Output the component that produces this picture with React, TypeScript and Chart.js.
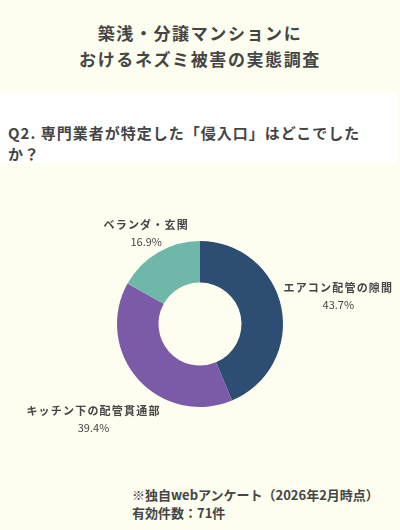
import { useEffect, useRef } from 'react'
import { Chart, registerables } from 'chart.js'

Chart.register(...registerables)

const categories = ['エアコン配管の隙間', 'キッチン下の配管貫通部', 'ベランダ・玄関']
const shares = [43.7, 39.4, 16.9]
const colors = ['#2d4e72', '#7b5ba8', '#6fb8a9']
// how far from the centre each label sits, as a multiple of the outer radius
const labelDistance = [1.7, 1.72, 1.28]

const FONT = '"Noto Sans CJK JP", "Noto Sans", sans-serif'
const TEXT = '#454545'

const labelPlugin = {
  id: 'sliceLabels',
  afterDatasetsDraw(chart: any) {
    const { ctx } = chart
    const meta = chart.getDatasetMeta(0)
    ctx.save()
    ctx.textAlign = 'center'
    ctx.textBaseline = 'middle'
    meta.data.forEach((arc: any, i: number) => {
      const { x, y, startAngle, endAngle, outerRadius } = arc.getProps(
        ['x', 'y', 'startAngle', 'endAngle', 'outerRadius'], true)
      const mid = (startAngle + endAngle) / 2
      const d = outerRadius * labelDistance[i]
      const lx = x + Math.cos(mid) * d
      const ly = y + Math.sin(mid) * d
      ctx.fillStyle = TEXT
      ctx.font = `bold 11px ${FONT}`
      ;(ctx as any).letterSpacing = '1.2px'
      ctx.fillText(categories[i], lx, ly - 8)
      ctx.font = `11px ${FONT}`
      ;(ctx as any).letterSpacing = '0px'
      ctx.fillText(shares[i].toFixed(1) + '%', lx, ly + 9)
    })
    ctx.restore()
  }
}

function Donut() {
  const ref = useRef<HTMLCanvasElement>(null)

  useEffect(() => {
    if (!ref.current) return
    const chart = new Chart(ref.current, {
      type: 'doughnut',
      data: {
        labels: categories,
        datasets: [{
          data: shares,
          backgroundColor: colors,
          borderWidth: 0
        }]
      },
      options: {
        responsive: false,
        animation: false,
        cutout: '50%',
        layout: { padding: { top: 51, bottom: 52 } },
        plugins: {
          legend: { display: false },
          tooltip: { enabled: false }
        }
      },
      plugins: [labelPlugin]
    })
    return () => chart.destroy()
  }, [])

  return <canvas ref={ref} width={400} height={269} style={{ position: 'absolute', left: 0, top: 190 }} />
}

export default function App() {
  return (
    <div style={{
      position: 'fixed', left: 0, top: 0, width: 400, height: 530,
      background: '#fdfdf0', fontFamily: FONT, color: TEXT, overflow: 'hidden'
    }}>
      <div style={{
        position: 'absolute', top: 20, left: 0, width: 400, textAlign: 'center',
        fontSize: 17, fontWeight: 700, lineHeight: '26px', letterSpacing: 1.6
      }}>
        築浅・分譲マンションに<br />おけるネズミ被害の実態調査
      </div>
      <div style={{
        position: 'absolute', top: 93, left: 0, width: 397, height: 70, background: '#ffffff'
      }}>
        <div style={{
          position: 'absolute', top: 29, left: 8, fontSize: 15, fontWeight: 700,
          lineHeight: '21px', letterSpacing: 1.0
        }}>
          Q2. 専門業者が特定した「侵入口」はどこでした<br />か？
        </div>
      </div>
      <Donut />
      <div style={{
        position: 'absolute', top: 486, left: 132, fontSize: 13, fontWeight: 700,
        lineHeight: '18px'
      }}>
        ※独自webアンケート（2026年2月時点）<br />有効件数：71件
      </div>
    </div>
  )
}
